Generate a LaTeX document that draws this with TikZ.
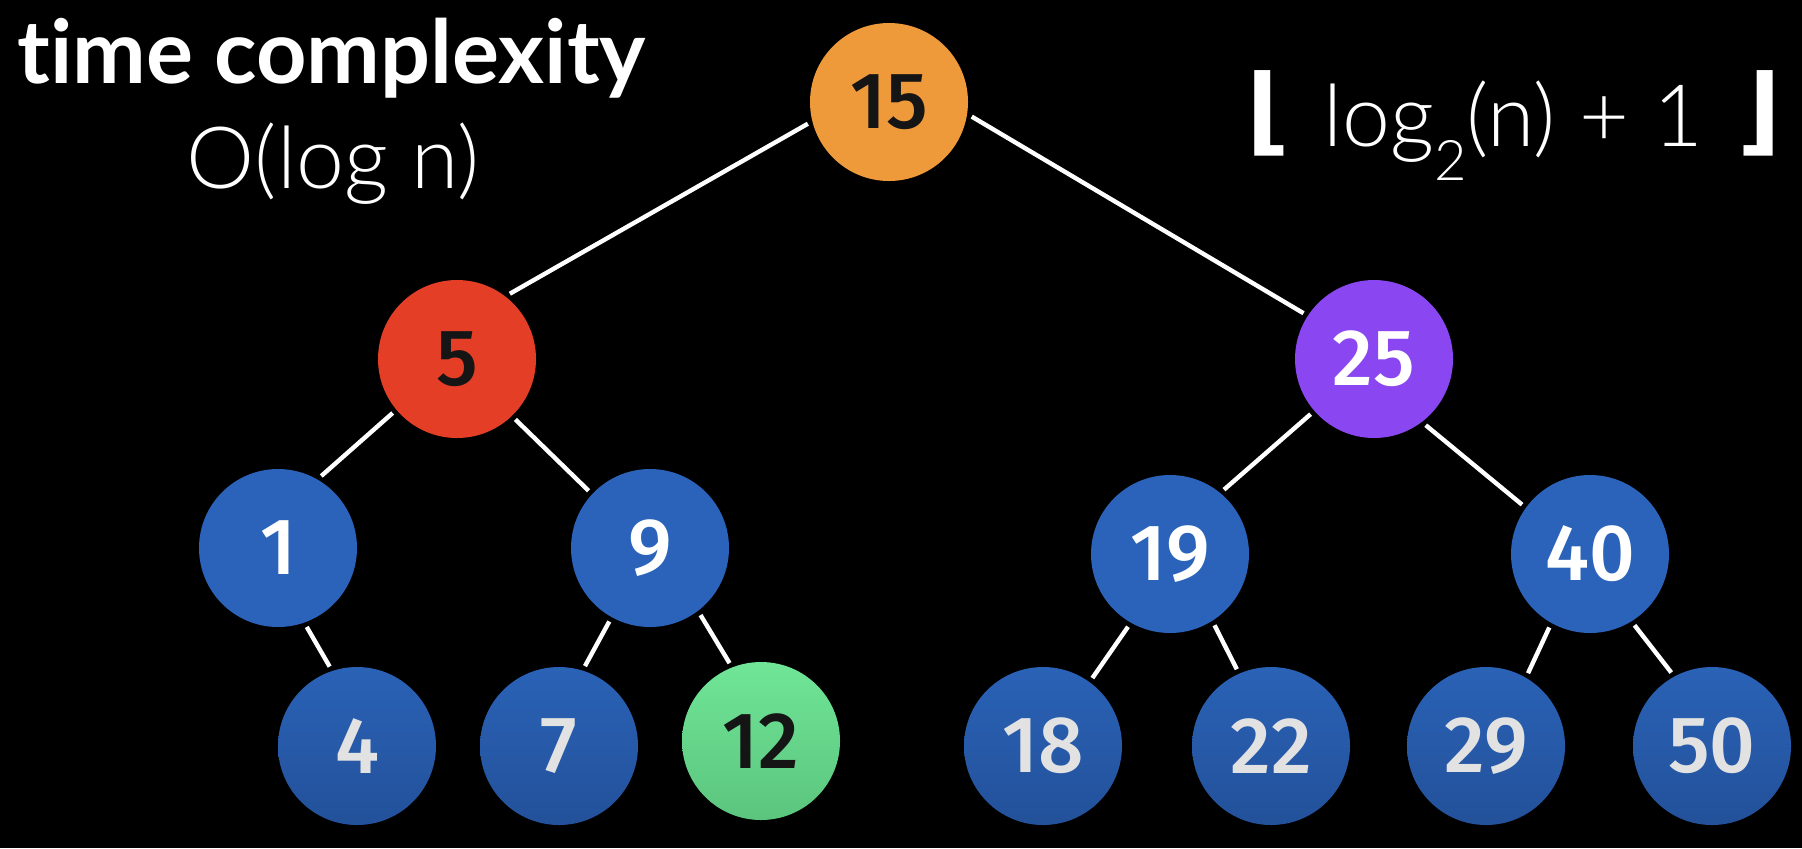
\documentclass[tikz,border=0pt]{standalone}
\usepackage{fontspec}
\setmainfont{Lato}[Ligatures=NoCommon]
\newfontfamily\latolight{Lato Light}[Ligatures=NoCommon]
\newfontfamily\digitfont{Fira Sans Medium}
\newfontfamily\symfont{DejaVu Sans}
\definecolor{corange}{HTML}{EF9A3A}
\definecolor{cred}{HTML}{E53E26}
\definecolor{cpurple}{HTML}{8A46F0}
\definecolor{cblue}{HTML}{2A63B9}
\definecolor{cblueT}{HTML}{2A62B6}
\definecolor{cblueB}{HTML}{23519A}
\definecolor{cgreenT}{HTML}{70E597}
\definecolor{cgreenB}{HTML}{5BC57E}
\definecolor{cdark}{HTML}{151515}
\definecolor{cgray}{HTML}{E2E2E2}
\begin{document}
\begin{tikzpicture}[x=0.5pt,y=-0.5pt,
  tn/.style={circle, minimum size=79pt, inner sep=0pt, outer sep=2.5pt,
    font=\digitfont\fontsize{40}{40}\selectfont},
  orangenode/.style={tn, fill=corange, text=cdark},
  rednode/.style={tn, fill=cred, text=cdark},
  purplenode/.style={tn, fill=cpurple, text=white},
  bluenode/.style={tn, fill=cblue, text=white},
  leafnode/.style={tn, top color=cblueT, bottom color=cblueB, text=cgray},
  greennode/.style={tn, top color=cgreenT, bottom color=cgreenB, text=cdark},
  edge/.style={draw=white, line width=2.2pt},
  lbl/.style={text=white, inner sep=0pt}]
\fill[black] (0,0) rectangle (1802,848);
\useasboundingbox (0,0) rectangle (1802,848);

\node[orangenode] (n15) at (889,102) {15};
\node[rednode] (n5) at (457,359) {5};
\node[purplenode] (n25) at (1374,359) {25};
\node[bluenode] (n1) at (278,548) {1};
\node[bluenode] (n9) at (650,548) {9};
\node[bluenode] (n19) at (1170,554) {19};
\node[bluenode] (n40) at (1590,554) {40};
\node[leafnode] (n4) at (357,746) {4};
\node[leafnode] (n7) at (559,746) {7};
\node[greennode] (n12) at (761,741) {12};
\node[leafnode] (n18) at (1043,746) {18};
\node[leafnode] (n22) at (1271,746) {22};
\node[leafnode] (n29) at (1486,746) {29};
\node[leafnode] (n50) at (1712,746) {50};

\draw[edge] (n15.195) -- (n5.51);
\draw[edge] (n15.350) -- (n25.147);
\draw[edge] (n5.220) -- (n1.59);
\draw[edge] (n5.314) -- (n9.137);
\draw[edge] (n1.290) -- (n4.109);
\draw[edge] (n9.241) -- (n7.72);
\draw[edge] (n9.307) -- (n12.112);
\draw[edge] (n25.221) -- (n19.50);
\draw[edge] (n25.308) -- (n40.144);
\draw[edge] (n19.240) -- (n18.54);
\draw[edge] (n19.302) -- (n22.114);
\draw[edge] (n40.241) -- (n29.60);
\draw[edge] (n40.302) -- (n50.119);

\node[lbl, anchor=base west, font=\bfseries\fontsize{44}{44}\selectfont] (tc) at (17,83) {time complexity};
\node[lbl, anchor=base, font=\latolight\fontsize{43}{43}\selectfont] (bigo) at (333,188) {O(log n)};

\node[lbl, anchor=center, font=\symfont\bfseries\fontsize{48}{48}\selectfont] (lfl) at (1268,113) {⌊};
\node[lbl, anchor=base west, font=\latolight\fontsize{43}{43}\selectfont] (expr) at (1323,146)
  {log\raisebox{-17pt}{\fontsize{28}{28}\selectfont 2}(n)\hspace{12pt}+\hspace{12pt}1};
\node[lbl, anchor=center, font=\symfont\bfseries\fontsize{48}{48}\selectfont] (rfl) at (1759,113) {⌋};
\end{tikzpicture}
\end{document}
